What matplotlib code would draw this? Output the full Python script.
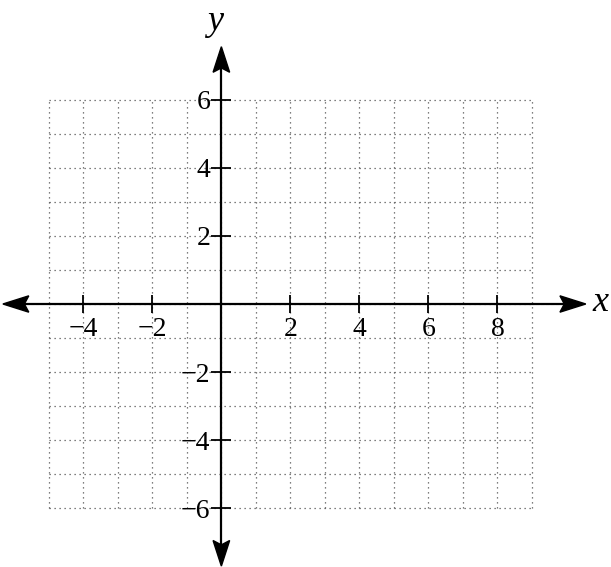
import matplotlib.pyplot as plt
from matplotlib.patches import Polygon

# grid extent and labelled ticks
grid_x = list(range(-5, 10))
grid_y = list(range(-6, 7))
xticks = [-4, -2, 2, 4, 6, 8]
yticks = [-6, -4, -2, 2, 4, 6]
x_arrow = (-6.33, 10.56)   # arrow tip positions along the x axis
y_arrow = (-7.69, 7.55)    # arrow tip positions along the y axis

plt.rcParams['font.family'] = ['Liberation Serif', 'DejaVu Serif']

fig = plt.figure(figsize=(6.11, 5.67), dpi=100)
ax = fig.add_axes([0, 0, 1, 1])
ax.set_xlim(-6.414, 11.29)
ax.set_ylim(-7.717, 8.92)

# dotted grid
ax.vlines(grid_x, grid_y[0], grid_y[-1], colors='#555555', linestyles=(0, (1, 3)), linewidth=0.9, zorder=1)
ax.hlines(grid_y, grid_x[0], grid_x[-1], colors='#555555', linestyles=(0, (1, 3)), linewidth=0.9, zorder=1)

# axes through the origin
for s in ['top', 'right']:
    ax.spines[s].set_visible(False)
ax.spines['left'].set_position(('data', 0))
ax.spines['bottom'].set_position(('data', 0))
ax.spines['bottom'].set_bounds(x_arrow[0] + 0.3, x_arrow[1] - 0.3)
ax.spines['left'].set_bounds(y_arrow[0] + 0.3, y_arrow[1] - 0.3)
for s in ['left', 'bottom']:
    ax.spines[s].set_linewidth(1.6)
    ax.spines[s].set_zorder(3)

ax.set_xticks(xticks)
ax.set_yticks(yticks)
ax.tick_params(axis='x', direction='inout', length=13, width=1.3, pad=3, labelsize=20)
ax.tick_params(axis='y', direction='inout', length=14, width=1.3, pad=1, labelsize=20)


def arrow_head(tip, direction, length=0.75, width=0.24):
    # slightly concave-backed arrow head pointing along direction
    dx, dy = direction
    px, py = -dy, dx
    tx, ty = tip
    pts = [(tx, ty),
           (tx - length * dx + width * px, ty - length * dy + width * py),
           (tx - 0.83 * length * dx, ty - 0.83 * length * dy),
           (tx - length * dx - width * px, ty - length * dy - width * py)]
    ax.add_patch(Polygon(pts, closed=True, color='black', zorder=4))


arrow_head((x_arrow[1], 0), (1, 0))
arrow_head((x_arrow[0], 0), (-1, 0))
arrow_head((0, y_arrow[1]), (0, 1))
arrow_head((0, y_arrow[0]), (0, -1))

ax.text(10.99, 0.05, 'x', fontsize=26, style='italic', ha='center', va='center')
ax.text(-0.18, 8.3, 'y', fontsize=26, style='italic', ha='center', va='center')

fig.savefig('out.png', dpi=100)
